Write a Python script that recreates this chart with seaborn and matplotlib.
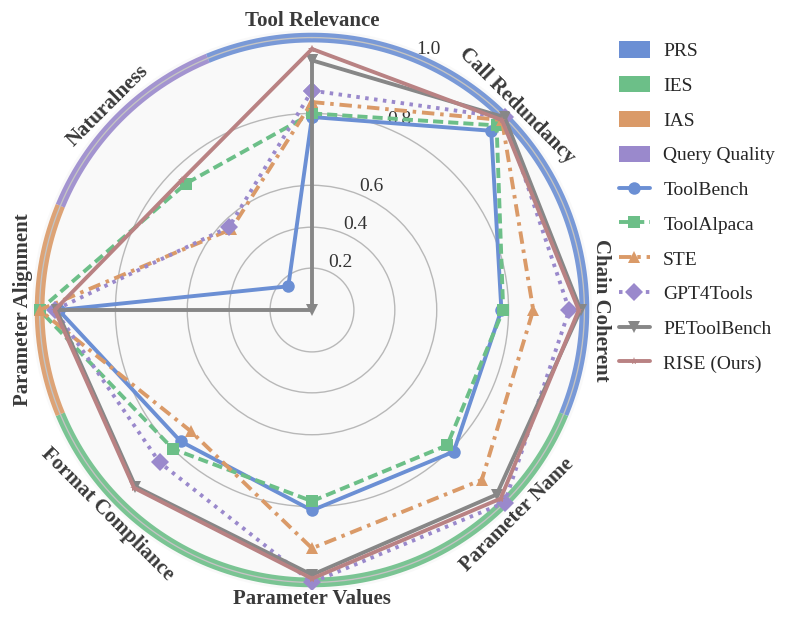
import numpy as np
import pandas as pd
import matplotlib
matplotlib.use("Agg")
import matplotlib.pyplot as plt
from matplotlib.patches import Patch
from matplotlib.lines import Line2D
import seaborn as sns

# -----------------------------
# data
# -----------------------------
dimensions = ['Tool Relevance', 'Call Redundancy', 'Chain Coherent', 'Parameter Name',
              'Parameter Values', 'Format Compliance', 'Parameter Alignment', 'Naturalness']

toolbench = [0.79, 0.95, 0.78, 0.81, 0.81, 0.77, 0.95, 0.16]
toolalpaca = [0.80, 0.97, 0.785, 0.785, 0.785, 0.80, 1.00, 0.75]
ste = [0.83, 0.99, 0.865, 0.915, 0.91, 0.73, 1.00, 0.55]
gpt4tools = [0.86, 1.00, 0.96, 1.00, 1.00, 0.85, 0.96, 0.565]
petoolbench = [0.94, 1.00, 0.99, 0.97, 0.98, 0.94, 0.955, 0.0]
rise = [0.97, 0.99, 0.985, 0.985, 0.99, 0.945, 0.96, 0.765]

methods = ['ToolBench', 'ToolAlpaca', 'STE', 'GPT4Tools', 'PEToolBench', 'RISE (Ours)']
scores = [toolbench, toolalpaca, ste, gpt4tools, petoolbench, rise]

# metric groups: name and how many dimensions they cover (from Tool Relevance, clockwise)
groups = ['PRS', 'IES', 'IAS', 'Query Quality']
group_sizes = [3, 3, 1, 1]

r_ticks = [0.2, 0.4, 0.6, 0.8, 1.0]

# -----------------------------
# style
# -----------------------------
sns.set_theme(style='white')
plt.rcParams['font.family'] = ['Liberation Serif', 'DejaVu Serif']

method_colors = ['#6b8fd4', '#6cbf88', '#da9a68', '#9a89cc', '#878787', '#b98283']
group_colors = ['#6b8fd4', '#6cbf88', '#da9a68', '#9a89cc']
method_styles = [dict(ls='-', marker='o'),
                 dict(ls=(0, (2.6, 1.3)), marker='s'),
                 dict(ls=(0, (3.2, 1.5, 0.9, 1.5)), marker='^'),
                 dict(ls=(0, (0.9, 1.4)), marker='D'),
                 dict(ls='-', marker='v'),
                 dict(ls='-', marker='*')]
grid_color = '#b8b8b8'

# the radial axis is stretched above 0.6
knot_v = np.array([-1.0, 0.0, 0.2, 0.4, 0.6, 0.8, 1.0, 2.0])
knot_r = np.array([-190.0, 0.0, 42.0, 83.0, 125.0, 197.0, 273.0, 653.0]) / 273.0


def fwd(v):
    return np.interp(v, knot_v, knot_r)


def inv(r):
    return np.interp(r, knot_r, knot_v)


# -----------------------------
# plot
# -----------------------------
fig = plt.figure(figsize=(7.98, 6.24), dpi=100)
ax = fig.add_axes([32 / 798, 34 / 624, 560 / 798, 560 / 624], polar=True)
ax.set_theta_offset(np.pi / 2)
ax.set_theta_direction(-1)
ax.set_yscale('function', functions=(fwd, inv))
ax.set_facecolor('#f9f9f9')
ax.spines['polar'].set_visible(False)

n = len(dimensions)
angles = np.arange(n) * 2 * np.pi / n

# coloured outer ring for metric groups, outer grid circle shows through
start = -0.5
for g, size, col in zip(groups, group_sizes, group_colors):
    th = np.linspace(start, start + size, 200) * 2 * np.pi / n
    ax.plot(th, np.ones_like(th), color=col, lw=7, alpha=0.9, solid_capstyle='butt', zorder=1)
    start += size
ring = np.linspace(0, 2 * np.pi, 400)
ax.plot(ring, np.ones_like(ring), color='#c4c4c4', lw=1.0, zorder=1.2)

for name, vals, col, st in zip(methods, scores, method_colors, method_styles):
    df = pd.DataFrame({'theta': np.append(angles, angles[0]), 'score': vals + vals[:1]})
    sns.lineplot(data=df, x='theta', y='score', ax=ax, sort=False, estimator=None,
                 color=col, lw=2.8, linestyle=st['ls'], marker=st['marker'],
                 markersize=9 if st['marker'] != '*' else 6, markeredgewidth=0,
                 zorder=3)

ax.set_ylim(0, 1.02)
ax.set_xticks(angles)
ax.set_xticklabels([])
ax.xaxis.grid(False)
ax.set_rgrids(r_ticks, [f'{t:.1f}' for t in r_ticks], angle=22.5,
              fontsize=14, color='#333333')
ax.yaxis.grid(True, color=grid_color, lw=1.0)
ax.set_xlabel('')
ax.set_ylabel('')

for ang, lab in zip(angles, dimensions):
    bearing = np.degrees(ang)
    rot = -bearing
    if rot <= -180:
        rot += 360
    if rot > 90 or rot < -90:
        rot -= 180 * np.sign(rot)
    ax.text(ang, 1.045, lab, rotation=rot, rotation_mode='anchor',
            ha='center', va='center', fontsize=15, fontweight='bold', color='#3a3a3a')

handles = [Patch(facecolor=c, edgecolor='none', label=g) for g, c in zip(groups, group_colors)]
for name, col, st in zip(methods, method_colors, method_styles):
    handles.append(Line2D([0], [0], color=col, lw=2.8, linestyle=st['ls'], marker=st['marker'],
                          markersize=9 if st['marker'] != '*' else 6, markeredgewidth=0,
                          label=name))
fig.legend(handles=handles, loc='upper left', bbox_to_anchor=(601 / 798, 1 - 24 / 624),
           frameon=False, fontsize=14, handlelength=1.6, handleheight=0.9,
           labelspacing=0.82, handletextpad=0.7)

plt.savefig('out.png', dpi=100)
plt.close()
